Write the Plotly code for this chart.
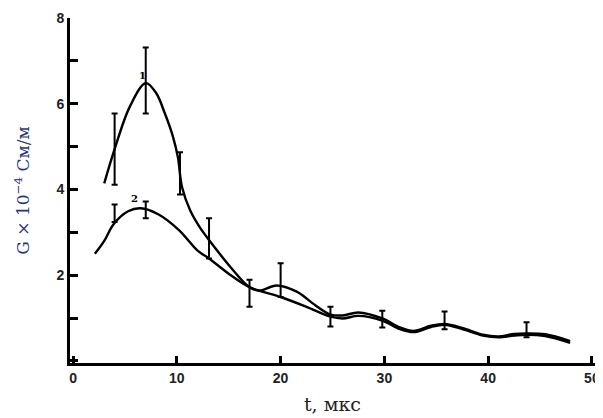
import plotly.graph_objects as go

# Curve 1 (upper)
t1 = [3.0, 4.0, 5.5, 7.0, 8.0, 8.8, 9.6, 10.1, 10.5, 11.3, 12.2, 13.1, 15.2, 17.0, 18.0,
      19.6, 21.5, 23.5, 24.8, 26.0, 27.5, 29.8, 31.5, 32.8, 34.5, 35.8, 37.5, 39.5, 41.0,
      42.5, 43.7, 45.5, 47.9]
g1 = [4.14, 4.94, 5.95, 6.48, 6.25, 5.80, 5.25, 4.75, 4.05, 3.50, 3.12, 2.82, 2.18, 1.72, 1.64,
      1.76, 1.62, 1.27, 1.08, 1.06, 1.13, 0.99, 0.78, 0.70, 0.82, 0.86, 0.77, 0.61, 0.57,
      0.63, 0.64, 0.62, 0.46]

# Curve 2 (lower)
t2 = [2.1, 3.0, 3.9, 5.3, 6.5, 8.2, 10.2, 12.0, 13.1, 14.9, 17.0, 20.0, 22.5, 24.8, 26.0,
      27.5, 29.8, 31.5, 32.8, 34.5, 35.8, 37.5, 39.5, 41.0, 42.5, 43.7, 45.5, 47.9]
g2 = [2.50, 2.80, 3.19, 3.49, 3.56, 3.42, 3.05, 2.57, 2.39, 2.05, 1.72, 1.49, 1.26, 1.03, 0.99,
      1.05, 0.94, 0.74, 0.67, 0.79, 0.84, 0.74, 0.59, 0.55, 0.59, 0.61, 0.58, 0.42]

# Error bars: position, lower end, upper end
bar_t = [4.0, 7.0, 10.3, 13.1, 17.0, 20.0, 24.8, 29.8, 35.8, 43.7, 4.0, 7.0]
bar_lo = [4.11, 5.77, 3.88, 2.39, 1.26, 1.49, 0.80, 0.78, 0.74, 0.55, 3.24, 3.33]
bar_hi = [5.77, 7.31, 4.87, 3.33, 1.89, 2.28, 1.26, 1.17, 1.15, 0.90, 3.65, 3.72]

x_ticks = [0, 10, 20, 30, 40, 50]
x_labels = ["<b>0</b>", "<b>10</b>", "<b>20</b>", "<b>30</b>", "<b>40</b>", "<b>50</b>"]
y_ticks = [0, 1, 2, 3, 4, 5, 6, 7, 8]
y_labels = ["", "", "<b>2</b>", "", "<b>4</b>", "", "<b>6</b>", "", "<b>8</b>"]

fig = go.Figure()
line_style = dict(color="black", width=2.4, shape="spline", smoothing=1.0)
fig.add_trace(go.Scatter(x=t1, y=g1, mode="lines", line=line_style, showlegend=False, hoverinfo="skip"))
fig.add_trace(go.Scatter(x=t2, y=g2, mode="lines", line=line_style, showlegend=False, hoverinfo="skip"))

mid = [(a + b) / 2 for a, b in zip(bar_lo, bar_hi)]
half = [(b - a) / 2 for a, b in zip(bar_lo, bar_hi)]
fig.add_trace(go.Scatter(
    x=bar_t, y=mid, mode="markers", marker=dict(size=0.1, color="rgba(0,0,0,0)"),
    error_y=dict(type="data", array=half, visible=True, color="black", thickness=2, width=3),
    showlegend=False, hoverinfo="skip"))

fig.add_annotation(x=6.7, y=6.65, text="<b>1</b>", showarrow=False,
                   font=dict(family="DejaVu Serif", size=10, color="black"))
fig.add_annotation(x=5.9, y=3.8, text="<b>2</b>", showarrow=False,
                   font=dict(family="DejaVu Serif", size=10, color="black"))

# page body has an 8px margin, so the figure is sized to fit the window from there
fig.update_layout(
    width=595, height=410,
    margin=dict(l=62, r=8, t=10, b=55),
    paper_bgcolor="white", plot_bgcolor="white",
    xaxis=dict(range=[-0.3, 50.3], tickvals=x_ticks, ticktext=x_labels, ticks="inside", ticklen=7,
               tickwidth=3, automargin=False,
               tickcolor="black", showline=True, linecolor="black", linewidth=3, showgrid=False,
               zeroline=False, tickfont=dict(family="Liberation Sans", size=14, color="#222"),
               title=dict(text="t, мкс", font=dict(family="DejaVu Serif", size=19, color="#222"),
                          standoff=13)),
    yaxis=dict(range=[-0.05, 8], tickvals=y_ticks, ticktext=y_labels, ticks="inside", ticklen=8,
               tickwidth=3, tickcolor="black", showline=True, linecolor="black", linewidth=3,
               showgrid=False, zeroline=False, automargin=False,
               tickfont=dict(family="Liberation Sans", size=14, color="#222"),
               title=dict(text="G × 10<sup>−4</sup> См/м",
                          font=dict(family="DejaVu Serif", size=17, color="#2b3672"),
                          standoff=23)),
)
fig.write_html("out.html")
